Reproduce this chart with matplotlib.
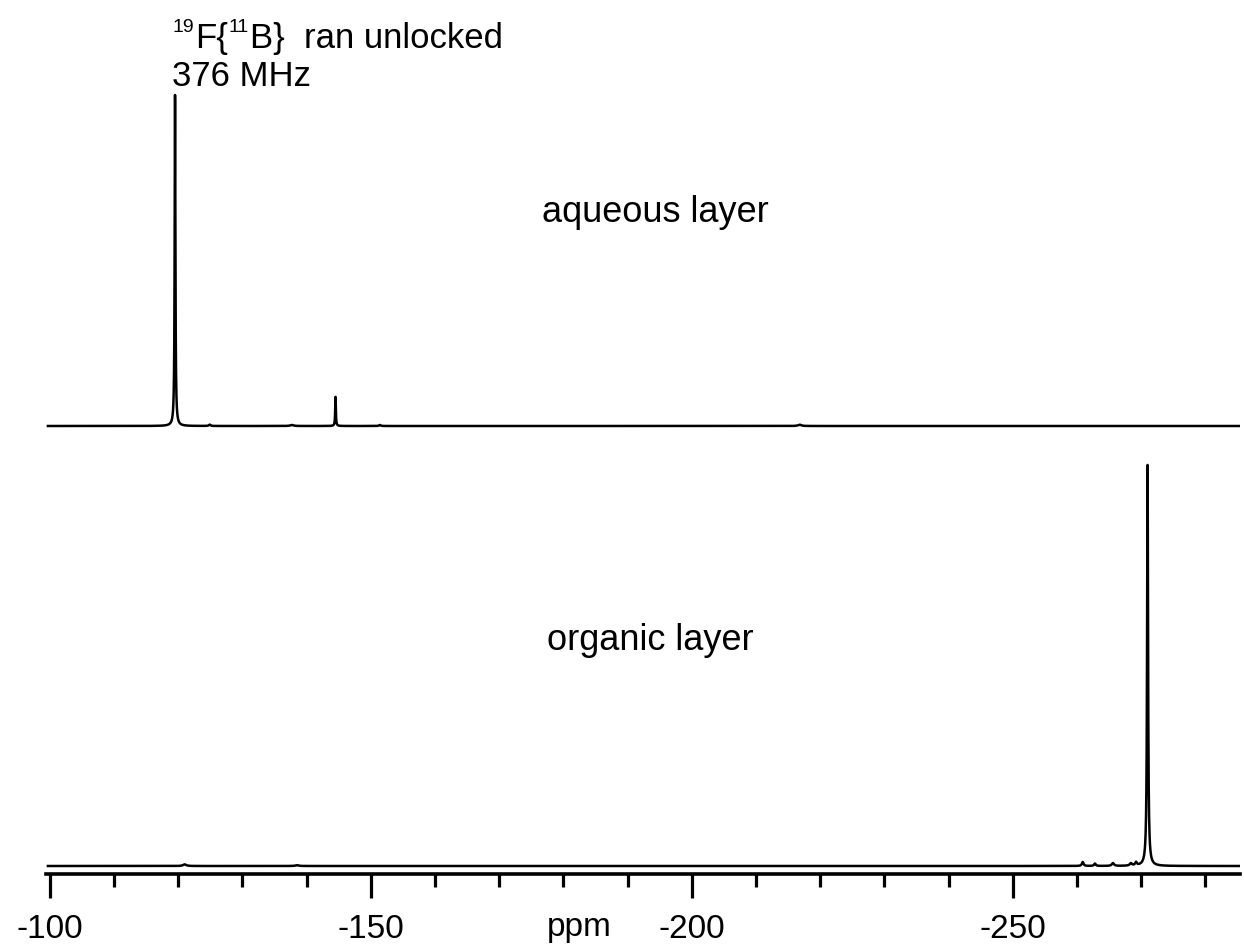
import numpy as np
import matplotlib
matplotlib.use("Agg")
import matplotlib.pyplot as plt
from matplotlib.ticker import MultipleLocator

plt.rcParams['font.family'] = ['Liberation Sans', 'DejaVu Sans']
plt.rcParams['axes.unicode_minus'] = False

# peak lists: shift (ppm), relative height, half width (ppm)
aq_shift = [-119.5, -124.9, -137.7, -144.5, -151.4, -216.8]
aq_height = [1.0, 0.004, 0.003, 0.088, 0.003, 0.004]
aq_width = [0.07, 0.15, 0.3, 0.06, 0.15, 0.3]

org_shift = [-121.0, -138.5, -260.9, -262.8, -265.6, -268.4, -269.2, -271.0]
org_height = [0.004, 0.002, 0.010, 0.006, 0.007, 0.006, 0.008, 1.0]
org_width = [0.3, 0.3, 0.15, 0.15, 0.2, 0.2, 0.15, 0.09]

title_parts = [('19', True), ('F{', False), ('11', True), ('B}  ran unlocked', False)]

ppm = np.arange(-99.7, -285.4, -0.01)


def lorentz_sum(x, shifts, heights, widths):
    y = np.zeros_like(x)
    for s, h, w in zip(shifts, heights, widths):
        y += h * w**2 / ((x - s)**2 + w**2)
    return y


aqueous = lorentz_sum(ppm, aq_shift, aq_height, aq_width)
organic = lorentz_sum(ppm, org_shift, org_height, org_width)

W, H = 1244, 946
fig = plt.figure(figsize=(W / 100, H / 100), dpi=100)
ax = fig.add_axes([46 / W, 72 / H, 1194 / W, 794 / H])

# stacked traces, offsets in axis units
ax.plot(ppm, 448 + 331 * aqueous, color='black', lw=1.8)
ax.plot(ppm, 8 + 401 * organic, color='black', lw=1.8)

ax.set_xlim(-99.4, -285.4)
ax.set_ylim(0, 794)

for side in ['top', 'left', 'right']:
    ax.spines[side].set_visible(False)
ax.spines['bottom'].set_linewidth(2.6)
ax.set_yticks([])

ax.xaxis.set_major_locator(MultipleLocator(50))
ax.xaxis.set_minor_locator(MultipleLocator(10))
ax.tick_params(axis='x', which='major', length=17, width=2.3, pad=12, labelsize=24)
ax.tick_params(axis='x', which='minor', length=9, width=2.3)

ax.text(-182.4, -62 / 794, 'ppm', fontsize=24, ha='center', va='baseline',
        transform=ax.get_xaxis_transform())

# title line: superscripts as separate smaller pieces
renderer = fig.canvas.get_renderer()
x = 172
for s, sup in title_parts:
    base = 32 if sup else 48
    t = fig.text(x / W, 1 - base / H, s, fontsize=14 if sup else 25,
                 ha='left', va='baseline')
    x = t.get_window_extent(renderer).x1 + 1

fig.text(172 / W, 1 - 86 / H, '376 MHz', fontsize=25, ha='left', va='baseline')
fig.text(655 / W, 1 - 222 / H, 'aqueous layer', fontsize=26, ha='center', va='baseline')
fig.text(650 / W, 1 - 650 / H, 'organic layer', fontsize=26, ha='center', va='baseline')

fig.savefig('out.png', dpi=100)
